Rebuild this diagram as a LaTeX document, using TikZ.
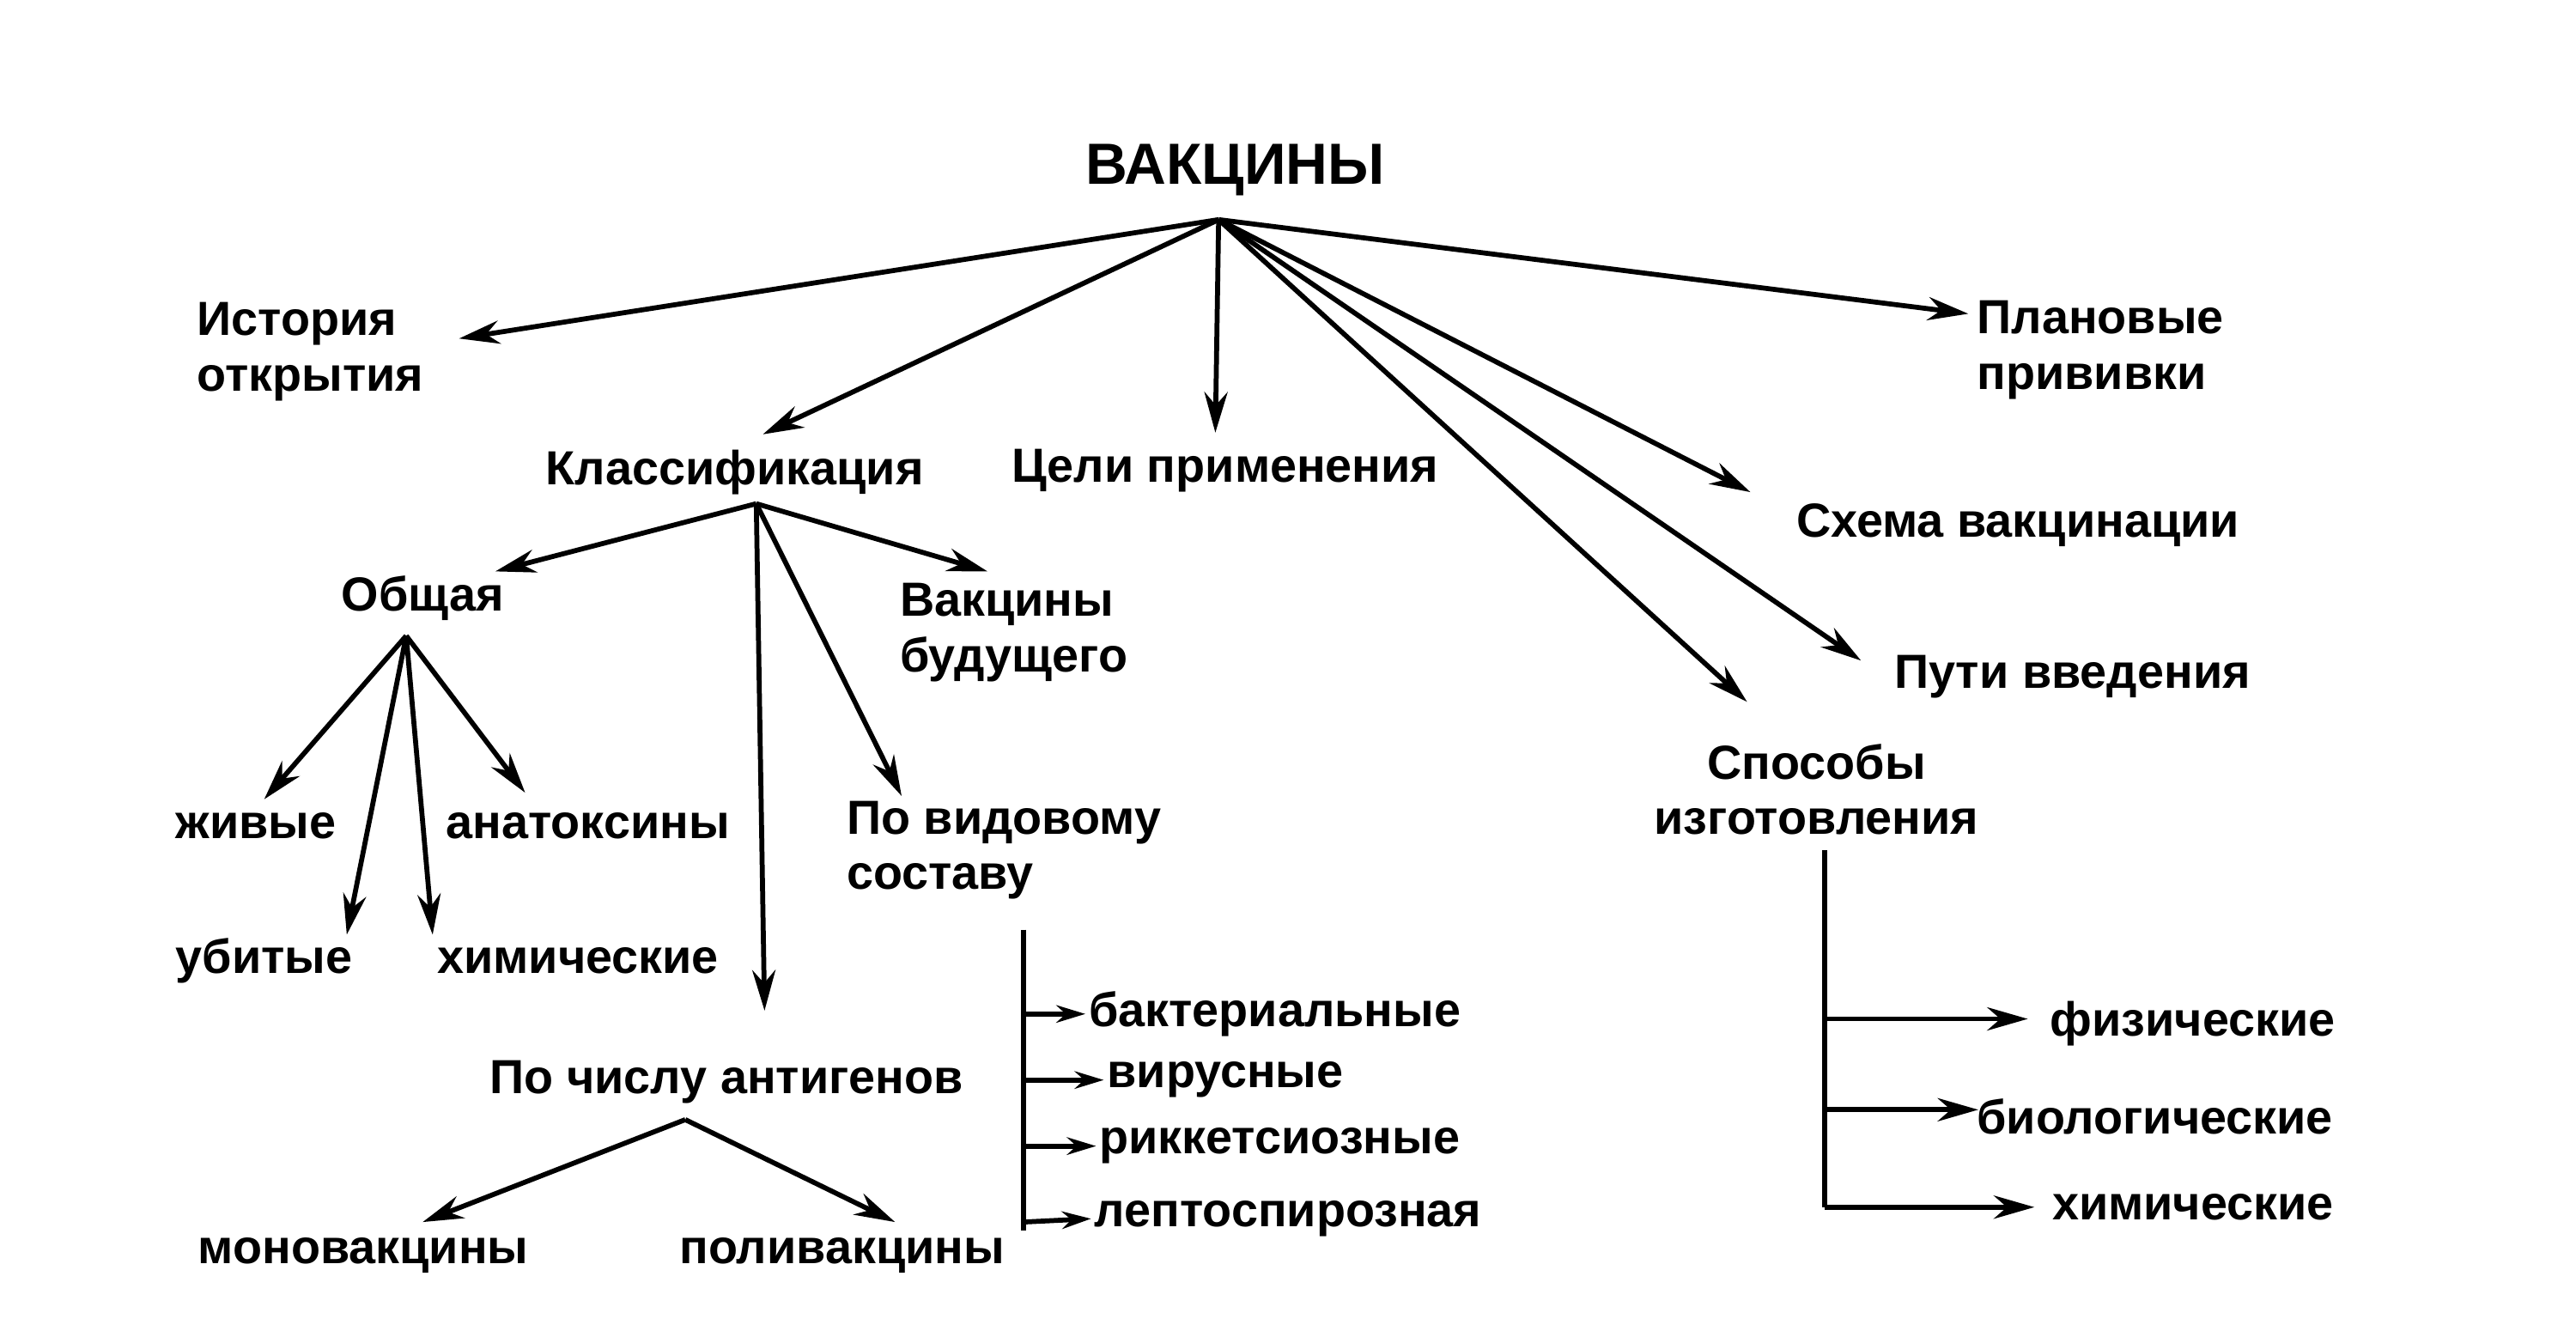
\documentclass[tikz,border=0pt]{standalone}
\usepackage{fontspec}
\setmainfont{Liberation Sans}
\usetikzlibrary{arrows.meta}
\tikzset{
  >={Stealth[length=14pt,width=8pt]},
  conn/.style={line width=1.7pt,->},
  line/.style={line width=1.7pt},
  lbl/.style={font=\fontsize{16.5}{19}\bfseries,align=left,inner sep=1pt},
  title/.style={font=\fontsize{20}{22}\bfseries,inner sep=1pt}
}
\begin{document}
\begin{tikzpicture}[x=0.2mm,y=-0.2mm]
  \useasboundingbox (0,0) rectangle (1560,806);

  % --- TOP LEVEL ---
  \node[title] (vac) at (748,103) {ВАКЦИНЫ};
  \coordinate (vac-a) at (738,133);
  \node[lbl] (hist) at (188,213) {История\\открытия};
  \node[lbl] (klass) at (445,286) {Классификация};
  \node[lbl] (celi) at (742,285) {Цели применения};
  \node[lbl] (plan) at (1272,212) {Плановые\\прививки};
  \node[lbl] (schema) at (1222,318) {Схема вакцинации};
  \node[lbl] (puti) at (1255,410) {Пути введения};
  \node[lbl,align=center] (sposob) at (1100,478) {Способы\\изготовления};

  \coordinate (hist-e) at (278,205);
  \coordinate (klass-e) at (462,263);
  \coordinate (celi-e) at (736,262);
  \coordinate (plan-e) at (1192,190);
  \coordinate (schema-e) at (1060,298);
  \coordinate (puti-e) at (1127,400);
  \coordinate (sposob-e) at (1058,425);
  \foreach \t in {hist,klass,celi,plan,schema,puti,sposob}
    \draw[conn] (vac-a) -- (\t-e);

  % --- CLASSIFICATION ---
  \node[lbl] (obsh) at (256,362) {Общая};
  \node[lbl] (budush) at (614,383) {Вакцины\\будущего};
  \node[lbl] (vid) at (608,515) {По видовому\\составу};
  \node[lbl] (chislo) at (440,655) {По числу антигенов};
  \coordinate (klass-a) at (458,305);
  \coordinate (obsh-e) at (300,346);
  \coordinate (budush-e) at (598,346);
  \coordinate (vid-e) at (546,482);
  \coordinate (chislo-e) at (463,612);
  \foreach \t in {obsh,budush,vid,chislo}
    \draw[conn] (klass-a) -- (\t-e);

  % --- GENERAL ---
  \node[lbl] (ziv) at (155,500) {живые};
  \node[lbl] (anat) at (356,500) {анатоксины};
  \node[lbl] (ubit) at (160,582) {убитые};
  \node[lbl] (chim) at (350,582) {химические};
  \coordinate (obsh-a) at (246,385);
  \coordinate (ziv-e) at (160,484);
  \coordinate (ubit-e) at (210,566);
  \coordinate (chim-e) at (262,566);
  \coordinate (anat-e) at (318,480);
  \foreach \t in {ziv,ubit,chim,anat}
    \draw[conn] (obsh-a) -- (\t-e);

  % --- NUMBER OF ANTIGENS ---
  \node[lbl] (mono) at (220,760) {моновакцины};
  \node[lbl] (poly) at (510,760) {поливакцины};
  \coordinate (chislo-a) at (415,678);
  \coordinate (mono-e) at (256,740);
  \coordinate (poly-e) at (542,740);
  \draw[conn] (chislo-a) -- (mono-e);
  \draw[conn] (chislo-a) -- (poly-e);

  % --- SPECIES ---
  \node[lbl] (bact) at (772,614) {бактериальные};
  \node[lbl] (virus) at (742,654) {вирусные};
  \node[lbl] (rick) at (775,694) {риккетсиозные};
  \node[lbl] (lepto) at (780,738) {лептоспирозная};
  \coordinate (vid-t) at (620,563);
  \coordinate (vid-b) at (620,745);
  \draw[line] (vid-t) -- (vid-b);
  \foreach \t/\y in {bact/614,virus/654,rick/694,lepto/740}
    \draw[conn,{Stealth[length=10pt,width=6pt]}-{}] (\t.west) -- (620,\y);

  % --- MANUFACTURE ---
  \node[lbl] (fiz) at (1328,620) {физические};
  \node[lbl] (bio) at (1305,676) {биологические};
  \node[lbl] (chim2) at (1328,731) {химические};
  \coordinate (spos-t) at (1105,515);
  \coordinate (spos-b) at (1105,731);
  \draw[line] (spos-t) -- (spos-b);
  \foreach \t/\x/\y in {fiz/1228/617,bio/1198/672,chim2/1232/731}
    \draw[conn] (1105,\y) -- (\x,\y);
\end{tikzpicture}
\end{document}
